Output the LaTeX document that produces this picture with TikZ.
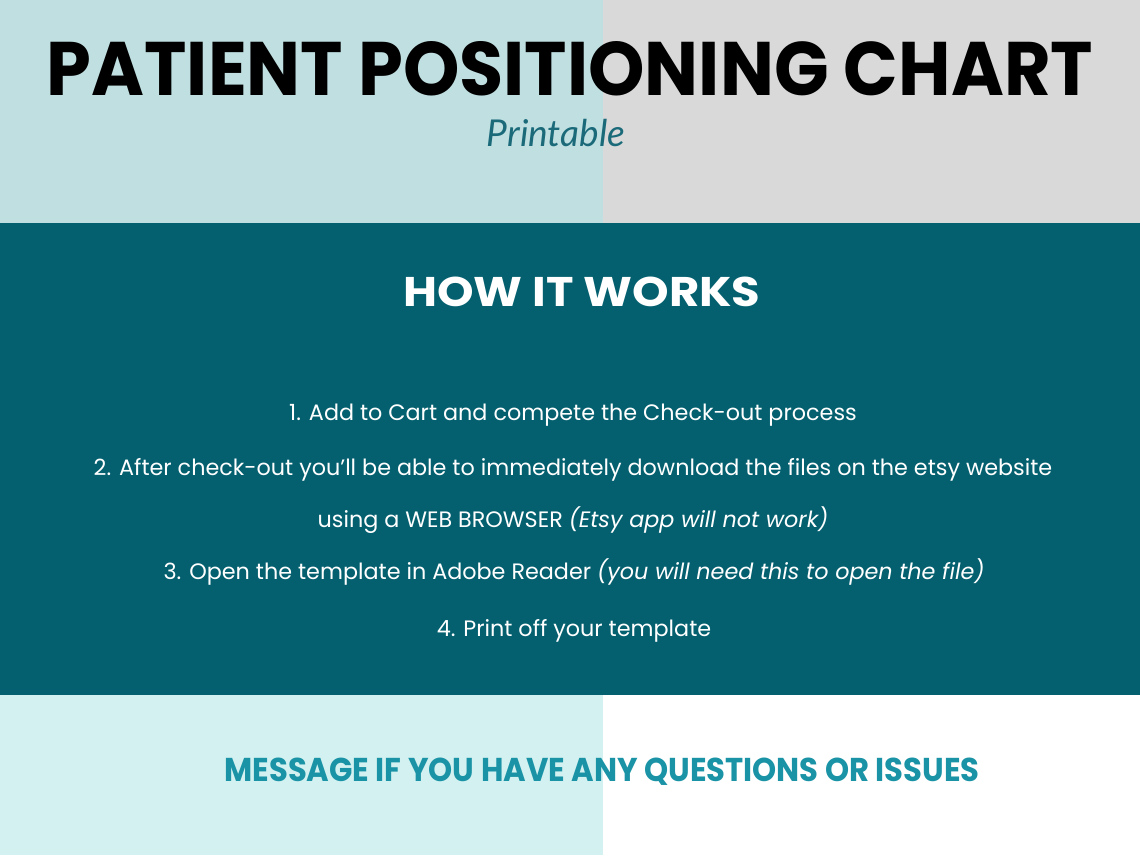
\documentclass[tikz,border=0pt]{standalone}
\usepackage{fontspec}
\setmainfont{Poppins}
\newfontfamily\scriptfnt{Lato}
\definecolor{topleft}{HTML}{C0DFE1}
\definecolor{topright}{HTML}{D9D9D9}
\definecolor{midteal}{HTML}{04606F}
\definecolor{botleft}{HTML}{D3F1F1}
\definecolor{msgteal}{HTML}{1993A5}
\definecolor{printteal}{HTML}{1A6A7A}
\tikzset{
  bodytext/.style={anchor=base, inner sep=0pt, text=white, font=\fontsize{22.3}{26}\selectfont},
  headtext/.style={anchor=base, inner sep=0pt},
}
\begin{document}
\begin{tikzpicture}[x=1pt,y=1pt]
\useasboundingbox (0,0) rectangle (1140,855);
\fill[topleft] (0,632) rectangle (603,855);
\fill[topright] (603,632) rectangle (1140,855);
\fill[midteal] (0,160) rectangle (1140,632);
\fill[botleft] (0,0) rectangle (603,160);
\fill[white] (603,0) rectangle (1140,160);
\node[headtext] (title) at (570,759) {\resizebox{1046pt}{54pt}{\bfseries PATIENT POSITIONING CHART}};
\node[headtext, text=printteal, font=\fontsize{37}{40}\scriptfnt\itshape\selectfont] (print) at (556,708) {Printable};
\node[headtext, text=white] (how) at (582,548) {\resizebox{357pt}{29.5pt}{\bfseries HOW IT WORKS}};
\node[bodytext] (l1) at (573,434) {1. Add to Cart and compete the Check-out process};
\node[bodytext] (l2) at (573,380) {2. After check-out you'll be able to immediately download the files on the etsy website};
\node[bodytext] (l3) at (573,328) {using a WEB BROWSER \textit{(Etsy app will not work)}};
\node[bodytext] (l4) at (574,276) {3. Open the template in Adobe Reader \textit{(you will need this to open the file)}};
\node[bodytext] (l5) at (574,219) {4. Print off your template};
\node[headtext, text=msgteal] (msg) at (602,74) {\resizebox{755pt}{23.5pt}{\bfseries MESSAGE IF YOU HAVE ANY QUESTIONS OR ISSUES}};
\end{tikzpicture}
\end{document}
